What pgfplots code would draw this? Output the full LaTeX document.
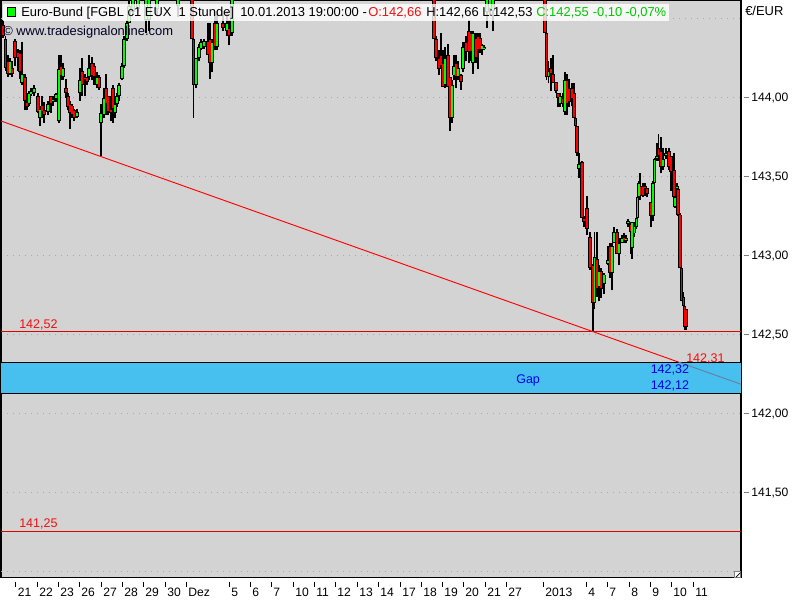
\documentclass[border=0pt]{standalone}
\usepackage{pgfplots}
\usepackage{pgfplotstable}
\usepackage{fontspec}
\setmainfont{Liberation Sans}
\pgfplotsset{compat=1.18}

\definecolor{chartbg}{HTML}{D3D3D3}
\definecolor{gapblue}{HTML}{47BFEF}
\definecolor{linered}{HTML}{E00000}
\definecolor{txtred}{HTML}{F01010}
\definecolor{txtgreen}{HTML}{00C800}
\definecolor{txtblue}{HTML}{0000F0}
\definecolor{trendgrey}{HTML}{6A7FA0}
\definecolor{gridgrey}{HTML}{A8A8A8}

% x is the position on the time axis, then low, high, body bottom, body top
\pgfplotstableread{
x low high bot top
3 144.38 144.49 144.39 144.46
5.5 144.17 144.39 144.19 144.37
8 144.13 144.27 144.15 144.23
12 144.13 144.23 144.15 144.19
15 144.20 144.37 144.25 144.36
18 144.17 144.31 144.25 144.29
20 144.12 144.30 144.16 144.28
25 143.92 144.15 143.98 144.13
27 143.92 143.99 143.94 143.97
38 143.90 144.03 143.91 144.01
42 143.87 144.01 143.91 143.95
44 143.84 143.97 143.89 143.92
51 143.90 144.01 143.96 144.01
61 144.11 144.27 144.14 144.20
66 144.00 144.12 144.03 144.06
68 143.92 144.03 143.94 144.01
70 143.80 143.98 143.90 143.96
72 143.87 143.96 143.89 143.95
74 143.85 143.93 143.87 143.92
82 144.01 144.25 144.08 144.17
85 144.01 144.15 144.11 144.13
87 144.08 144.13 144.10 144.13
92 144.11 144.26 144.14 144.22
94 144.08 144.22 144.13 144.20
99 144.05 144.14 144.06 144.13
106 143.89 144.15 143.96 144.06
108 143.89 144.01 143.91 144.01
111 143.85 144.01 143.90 143.93
113 143.84 144.08 143.93 144.06
192 144.37 144.70 144.37 144.70
193.5 143.87 144.37 144.08 144.37
208 144.27 144.47 144.27 144.36
210 144.12 144.47 144.22 144.37
215 144.30 144.55 144.32 144.47
223 144.42 144.55 144.44 144.47
229 144.33 144.49 144.39 144.44
434 144.37 144.70 144.37 144.70
436 144.23 144.39 144.25 144.37
439 144.14 144.30 144.18 144.25
441 144.19 144.41 144.20 144.27
443 144.07 144.30 144.07 144.22
448 144.07 144.34 144.07 144.27
450 143.79 144.13 143.87 144.13
456 144.06 144.27 144.13 144.22
461 144.05 144.15 144.10 144.14
466 144.23 144.39 144.29 144.35
469 144.22 144.49 144.29 144.42
471 144.23 144.42 144.29 144.41
476 144.22 144.41 144.25 144.38
478 144.18 144.41 144.30 144.39
480 144.28 144.41 144.30 144.38
545 144.41 144.70 144.41 144.70
546.5 144.11 144.42 144.13 144.41
551 144.04 144.25 144.15 144.19
553 144.09 144.27 144.09 144.15
556 144.03 144.10 144.04 144.10
558 143.94 144.03 144.00 144.03
562.5 143.94 144.03 143.96 144.00
567 143.89 144.15 143.96 144.11
569 143.94 144.12 143.97 144.06
572 143.95 144.09 143.99 144.06
574 143.87 144.09 143.87 144.03
575.5 143.82 143.87 143.82 143.87
577 143.63 143.82 143.65 143.82
582 143.24 143.60 143.24 143.59
584 143.18 143.25 143.21 143.24
587 143.13 143.38 143.17 143.30
590 142.91 143.15 142.92 143.12
593 142.52 142.95 142.70 142.94
597 142.74 143.15 142.79 142.98
601 142.73 142.92 142.79 142.90
610 142.86 143.08 142.89 143.06
617 143.01 143.17 143.01 143.15
624 143.08 143.14 143.09 143.12
630.5 143.01 143.21 143.15 143.20
640 143.35 143.52 143.38 143.44
643 143.37 143.46 143.38 143.44
645 143.38 143.46 143.42 143.44
647 143.37 143.43 143.39 143.43
651 143.18 143.34 143.25 143.34
658.5 143.60 143.77 143.63 143.68
661 143.52 143.75 143.56 143.66
669 143.54 143.68 143.56 143.66
671 143.41 143.63 143.53 143.63
674 143.37 143.65 143.37 143.54
678 143.25 143.43 143.26 143.42
680 142.92 143.27 142.92 143.26
681.5 142.71 142.93 142.71 142.92
683.5 142.68 142.77 142.68 142.74
684.5 142.53 142.71 142.55 142.68
686 142.53 142.66 142.55 142.66
}\downbars

\pgfplotstableread{
x low high bot top
10 144.14 144.25 144.15 144.23
22 144.08 144.35 144.09 144.15
29 143.95 144.04 143.96 144.03
31 144.01 144.06 144.02 144.04
34 144.01 144.08 144.03 144.06
40 143.82 143.95 143.87 143.93
48 143.89 143.98 143.91 143.96
53 143.95 144.01 143.97 143.99
56 143.97 144.03 143.99 144.02
59 143.84 144.27 143.85 144.18
63 144.11 144.22 144.13 144.19
77 143.87 143.93 143.88 143.91
80 143.98 144.19 144.03 144.11
89 144.11 144.27 144.13 144.19
97 144.06 144.16 144.08 144.13
101 143.63 143.96 143.84 143.90
104 143.87 144.06 143.89 144.00
115 143.87 143.99 143.90 143.96
117 143.94 144.03 143.96 144.01
119 143.98 144.09 144.01 144.08
122 144.11 144.22 144.12 144.20
124 144.19 144.39 144.20 144.37
127 144.36 144.49 144.37 144.47
129 144.47 144.70 144.47 144.58
133 144.52 144.70 144.54 144.70
138 144.54 144.70 144.56 144.70
146 144.41 144.70 144.49 144.70
149 144.42 144.70 144.49 144.70
157 144.52 144.70 144.56 144.70
178 144.51 144.70 144.58 144.70
196 144.06 144.25 144.08 144.25
199 144.23 144.34 144.25 144.32
201 144.30 144.37 144.31 144.35
204 144.31 144.37 144.32 144.36
212 144.16 144.37 144.22 144.35
217 144.30 144.55 144.32 144.47
227 144.39 144.55 144.42 144.47
232 144.39 144.70 144.41 144.70
445 144.06 144.32 144.08 144.25
452 143.84 144.11 143.87 144.08
454 144.11 144.27 144.14 144.20
458 144.11 144.23 144.13 144.19
463 144.16 144.35 144.18 144.32
473 144.15 144.42 144.22 144.41
482 144.27 144.34 144.30 144.33
484 144.30 144.33 144.31 144.32
487 144.44 144.70 144.54 144.70
490 144.52 144.70 144.56 144.70
493 144.42 144.70 144.55 144.70
548.5 144.09 144.23 144.13 144.17
560 143.94 144.03 143.96 144.01
565 143.89 144.16 143.91 144.11
579 143.49 143.65 143.55 143.58
594.5 142.66 143.15 142.70 142.99
599 142.71 142.94 142.80 142.90
604 142.76 142.89 142.82 142.88
608 142.94 143.06 142.95 142.97
612 142.78 143.08 142.89 143.06
614 143.08 143.18 143.08 143.15
619 142.94 143.11 143.01 143.08
622 143.08 143.13 143.08 143.11
626 143.08 143.13 143.09 143.11
628 143.18 143.23 143.20 143.22
632 142.98 143.21 143.05 143.21
634.5 143.12 143.21 143.14 143.19
636.5 143.17 143.25 143.18 143.24
637.5 143.24 143.38 143.24 143.37
639 143.37 143.47 143.37 143.46
653 143.22 143.47 143.25 143.46
654.5 143.46 143.62 143.46 143.61
657 143.60 143.71 143.61 143.63
663 143.54 143.68 143.56 143.61
666 143.61 143.68 143.63 143.65
675 143.30 143.37 143.31 143.37
677 143.41 143.46 143.42 143.44
}\upbars

% one candle layer: vertical strokes from a lower to an upper column
\pgfplotsset{
  candle/.style 2 args={
    draw=none, forget plot,
    error bars/.cd, y dir=plus, y explicit,
    error mark=none,
    error bar style={line width=#1, color=#2},
    /pgfplots/.cd,
  },
}
\newcommand{\candles}[5]{%
  \addplot[candle={#4}{#5}] table[x=x, y=#2,
    y error plus expr=\thisrow{#3}-\thisrow{#2}] {#1};
}

\begin{document}
\begin{tikzpicture}
\begin{axis}[
  at={(0pt,0pt)}, anchor=south west,
  scale only axis, width=555pt, height=432.75pt,
  xmin=1, xmax=741, ymin=140.962, ymax=144.614,
  axis background/.style={fill=chartbg},
  axis line style={line width=0.9pt, black},
  font=\fontsize{9.1}{11}\selectfont,
  /pgf/number format/assume math mode=true,
  xtick pos=bottom, ytick pos=right,
  tick align=outside,
  xtick={15.5,37,58,79,101,122,143,165,186,229,250,271,293,314,335,357,378,400,421,442,463,485,506,543,586,607,629,650,671,693},
  xticklabels={21,22,23,26,27,28,29,30,Dez,5,6,7,10,11,12,13,14,17,18,19,20,21,27,2013,4,7,8,9,10,11},
  xticklabel style={anchor=base west, inner sep=0pt, xshift=1.5pt, yshift=-8pt},
  major tick length=6.5pt,
  tick style={draw=none},
  ytick={141.5,142,142.5,143,143.5,144},
  yticklabels={{141,50},{142,00},{142,50},{143,00},{143,50},{144,00}},
  yticklabel style={anchor=west, inner sep=0pt, xshift=1pt},
  ymajorgrids,
  major grid style={draw=gridgrey, line width=0.7pt, dash pattern=on 0.8pt off 3.7pt},
  extra y ticks={141,144.5},
  extra y tick labels={},
  clip=true,
]
% gap zone
\addplot[fill=gapblue, draw=none, forget plot] coordinates {(1,142.125) (741,142.125) (741,142.325) (1,142.325)};
\addplot[black, line width=0.8pt, forget plot] coordinates {(1,142.325) (741,142.325)};
\addplot[black, line width=0.8pt, forget plot] coordinates {(1,142.125) (741,142.125)};
% support levels
\addplot[linered, line width=0.7pt, forget plot] coordinates {(1,142.52) (741,142.52)};
\addplot[linered, line width=0.7pt, forget plot] coordinates {(1,141.256) (741,141.256)};
% trend line, greyed where it crosses the zone
\addplot[red, line width=0.7pt, forget plot] coordinates {(1,143.852) (679,142.325)};
\addplot[trendgrey, line width=0.7pt, forget plot] coordinates {(679,142.325) (741,142.186)};
% wicks
\candles{\downbars}{low}{high}{0.9pt}{black}
\candles{\upbars}{low}{high}{0.9pt}{black}
% bodies
\candles{\downbars}{bot}{top}{2.9pt}{black}
\candles{\upbars}{bot}{top}{2.9pt}{black}
\addplot[candle={1.2pt}{red}, error bars/error bar style={shorten <=0.7pt, shorten >=0.7pt}]
  table[x=x, y=bot, y error plus expr=\thisrow{top}-\thisrow{bot}] {\downbars};
\addplot[candle={1.2pt}{green}, error bars/error bar style={shorten <=0.7pt, shorten >=0.7pt}]
  table[x=x, y=bot, y error plus expr=\thisrow{top}-\thisrow{bot}] {\upbars};
\end{axis}

% everything below is placed in image pixels
\begin{scope}[shift={(-0.75pt,432.75pt)}, x=0.75pt, y=-0.75pt,
  every node/.style={inner sep=0pt, anchor=base west, font=\fontsize{9.7}{11}\selectfont}]
\path[use as bounding box] (0,0) rectangle (800,600);
% tick marks stand clear of the frame
\foreach \x in {15.5,37,58,79,101,122,143,165,186,229,250,271,293,314,335,357,378,400,421,442,463,485,506,543,586,607,629,650,671,693}
  \draw[black, line width=0.75pt] (\x,581) -- (\x,586);
\foreach \y in {97,176,255,334,413,492}
  \draw[gray, line width=0.75pt] (744,\y) -- (749,\y);
\fill[white, opacity=0.82] (3,3) rectangle (669,20);
\filldraw[fill=green, draw=black, line width=0.75pt] (7.5,7) rectangle (16,15.5);
\node at (21,16) {Euro-Bund [FGBL c1 EUX\ \ 1 Stunde]};
\node at (240,16) {10.01.2013 19:00:00 -};
\node[text=txtred] at (368,16) {O:142,66};
\node at (426,16) {H:142,66};
\node at (482,16) {L:142,53};
\node[text=txtgreen] at (536,16) {C:142,55};
\node[text=txtgreen] at (592.5,16) {-0,10};
\node[text=txtgreen] at (625,16) {-0,07\%};
\node[text=black!85!blue] at (3,35) {© www.tradesignalonline.com};
\node at (745,15) {€/EUR};
\begin{scope}[every node/.style={inner sep=0pt, anchor=base west, font=\fontsize{9.4}{11}\selectfont}]
\node[text=txtred] at (19,328) {142,52};
\node[text=txtred] at (19,527) {141,25};
\node[text=txtred] at (686,362) {142,31};
\node[text=txtblue] at (650.5,373) {142,32};
\node[text=txtblue] at (650.5,389) {142,12};
\node[text=txtblue] at (516,383) {Gap};
\end{scope}
% resize grip in the corner
\filldraw[fill=white, draw=gray, line width=0.5pt] (734,571) rectangle (740.5,576.5);
\draw[black, line width=0.6pt] (736,576.5) -- (740.5,572);
\end{scope}
\end{tikzpicture}
\end{document}
